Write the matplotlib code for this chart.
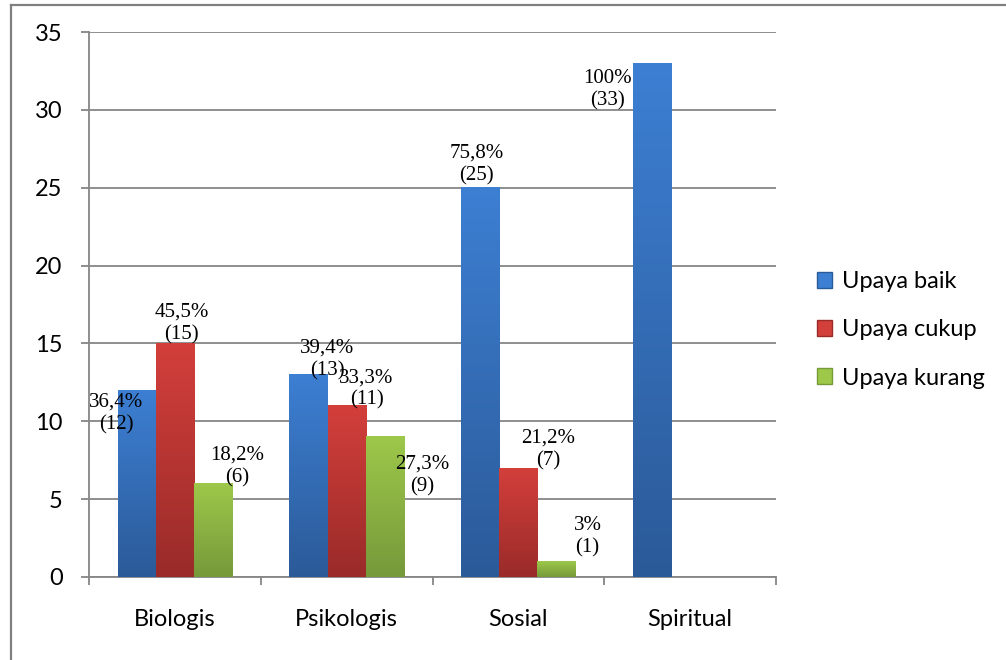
import numpy as np
import matplotlib.pyplot as plt
from matplotlib.colors import LinearSegmentedColormap
from matplotlib.lines import Line2D
from matplotlib.patches import Rectangle

categories = ["Biologis", "Psikologis", "Sosial", "Spiritual"]
series_names = ["Upaya baik", "Upaya cukup", "Upaya kurang"]
baik = [12, 13, 25, 33]
cukup = [15, 11, 7, 0]
kurang = [6, 9, 1, 0]
pct_baik = ["36,4%", "39,4%", "75,8%", "100%"]
pct_cukup = ["45,5%", "33,3%", "21,2%", ""]
pct_kurang = ["18,2%", "27,3%", "3%", ""]

values = [baik, cukup, kurang]
percents = [pct_baik, pct_cukup, pct_kurang]

# gradient (top, bottom) colours for each series
grads = [("#3d7fd3", "#2b5a98"), ("#d33f3b", "#992b29"), ("#9dc84a", "#76993a")]

# label offsets (dx, dy) in data units, per series and category
label_off = [
    [(-0.12, -1.5), (0.11, 0.94), (-0.02, 1.5), (-0.26, -1.7)],
    [(0.04, 1.3), (0.116, 1.07), (0.175, 1.16), None],
    [(0.14, 1.07), (0.22, -2.5), (0.18, 1.6), None],
]

fig = plt.figure(figsize=(10.06, 6.6), dpi=100)
ax = fig.add_axes([0.0885, 0.1258, 0.6829, 0.8257])

bw = 1 / 4.5
x = np.arange(len(categories))

for s, vals in enumerate(values):
    cmap = LinearSegmentedColormap.from_list("g", [grads[s][1], grads[s][0]])
    for i, v in enumerate(vals):
        if v == 0:
            continue
        xc = x[i] + (s - 1) * bw
        grad = np.linspace(0, 1, 256).reshape(-1, 1)
        ax.imshow(grad, extent=(xc - bw / 2, xc + bw / 2, 0, v), origin="lower",
                  cmap=cmap, aspect="auto", zorder=3, interpolation="bilinear")
        off = label_off[s][i]
        ax.text(xc + off[0], v + off[1], f"{percents[s][i]}\n({v})",
                ha="center", va="center", fontsize=15, family="Liberation Serif",
                linespacing=1.25, zorder=4)

ax.set_xlim(-0.5, 3.5)
ax.set_ylim(0, 35)
ax.set_yticks(range(0, 36, 5))
ax.set_xticks(np.arange(-0.5, 4, 1))
ax.set_xticklabels([])
ax.set_xticks(x, minor=True)
ax.set_xticklabels(categories, minor=True, fontsize=17, family="Lato")
ax.tick_params(axis="x", which="minor", length=0, pad=23)
ax.tick_params(axis="x", which="major", length=6, color="#868686", width=1.3)
ax.tick_params(axis="y", length=6, color="#868686", width=1.3, pad=13,
               labelsize=17)
for lab in ax.get_yticklabels():
    lab.set_family("Lato")

ax.grid(axis="y", color="#868686", linewidth=1.3, zorder=0)
ax.set_axisbelow(True)
for side in ["top", "right"]:
    ax.spines[side].set_visible(False)
for side in ["left", "bottom"]:
    ax.spines[side].set_color("#868686")
    ax.spines[side].set_linewidth(1.3)

handles = [Rectangle((0, 0), 1, 1, facecolor=c[0], edgecolor=c[1]) for c in grads]
leg = fig.legend(handles, series_names, loc="center left",
                 bbox_to_anchor=(0.791, 0.5), frameon=False,
                 prop={"family": "Lato", "size": 17}, handlelength=0.65,
                 handleheight=0.65, handletextpad=0.4, labelspacing=1.15)

# outer frame of the chart area
fig.add_artist(Line2D([0.0105, 0.0105], [0, 0.992], color="#808080", lw=1.6,
                      transform=fig.transFigure))
fig.add_artist(Line2D([0.0105, 1], [0.992, 0.992], color="#808080", lw=1.6,
                      transform=fig.transFigure))

fig.savefig("out.png", dpi=100)
